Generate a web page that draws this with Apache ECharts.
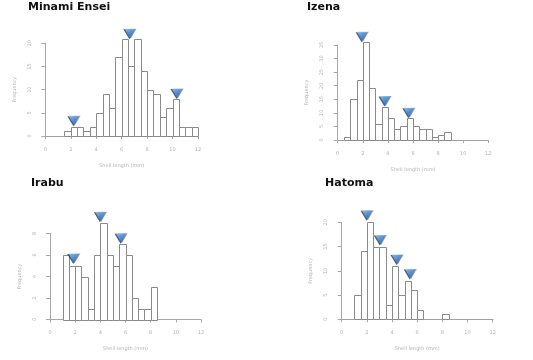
<!DOCTYPE html>
<html>
<head>
<meta charset="utf-8">
<script src="https://cdn.jsdelivr.net/npm/echarts@6/dist/echarts.min.js"></script>
<style>
html,body{margin:0;padding:0;background:#fff;}
#c{width:533px;height:360px;}
</style>
</head>
<body>
<div id="c"></div>
<script>
// ---- data ----
var panelTitles = ['Minami Ensei', 'Izena', 'Irabu', 'Hatoma'];
var binWidth = 0.5;
var binStarts = [0, 0, 1, 0];
var minamiCounts = [0,0,0,1,2,2,1,2,5,9,6,17,21,15,21,14,10,9,4,6,8,2,2,2];
var izenaCounts  = [0,1,15,22,36,19,6,12,8,4,5,8,5,4,4,1,2,3,0,0,0,0,0,0];
var irabuCounts  = [6,5,5,4,1,6,9,6,5,7,6,2,1,1,3];
var hatomaCounts = [0,0,5,14,20,15,15,3,11,5,8,6,2,0,0,0,1,0,0,0,0,0,0,0];
var minamiPeaks = [[2.3,2.2],[6.7,21],[10.4,8.1]];
var izenaPeaks  = [[2.0,36.2],[3.82,12.5],[5.72,8.2]];
var irabuPeaks  = [[1.94,5.2],[4.06,9.1],[5.7,7.1]];
var hatomaPeaks = [[2.07,20.4],[3.12,15.3],[4.45,11.3],[5.5,8.3]];
var yMax = [20, 35, 8, 20];
var yInterval = [5, 5, 2, 5];
var xTicks = [0, 12, 2];
var xName = 'Shell length (mm)';
var yName = 'Frequency';

var allCounts = [minamiCounts, izenaCounts, irabuCounts, hatomaCounts];
var allPeaks = [minamiPeaks, izenaPeaks, irabuPeaks, hatomaPeaks];

// ---- layout ----
var grids = [
  {left:45.3, top:43.3, width:152.7, height:92.7},
  {left:337.7, top:45, width:150.6, height:95},
  {left:50, top:233.5, width:151, height:86},
  {left:341.7, top:222.3, width:151, height:97}
];
var titlePos = [
  {left:28, top:2}, {left:307, top:2}, {left:31, top:178}, {left:325, top:178}
];

var labelColor = '#b4b4b4';
var axisColor = '#a8a8a8';

var option = {
  animation: false,
  backgroundColor: '#fff',
  title: panelTitles.map(function(t, i){
    return {text: t, left: titlePos[i].left, top: titlePos[i].top, padding: 0,
      textStyle: {fontFamily: 'DejaVu Sans', fontSize: 11, fontWeight: 'bold', color: '#111'}};
  }),
  grid: grids,
  xAxis: grids.map(function(g, i){
    return {type:'value', gridIndex:i, min:xTicks[0], max:xTicks[1], interval:xTicks[2],
      offset: 4,
      name: xName, nameLocation:'middle', nameGap: 23,
      nameTextStyle: {fontFamily:'DejaVu Sans', fontSize:5, color:labelColor},
      axisLine: {lineStyle:{color:axisColor, width:1}},
      axisTick: {length:3, lineStyle:{color:axisColor}},
      axisLabel: {fontFamily:'DejaVu Sans', fontSize:5, color:labelColor, margin:7},
      splitLine: {show:false}};
  }),
  yAxis: grids.map(function(g, i){
    return {type:'value', gridIndex:i, min:0, max:yMax[i], interval:yInterval[i],
      offset: 6,
      name: yName, nameLocation:'middle', nameGap: 22, nameRotate: 90,
      nameTextStyle: {fontFamily:'DejaVu Sans', fontSize:5, color:labelColor},
      axisLine: {show:true, lineStyle:{color:axisColor, width:1}},
      axisTick: {show:true, length:4, lineStyle:{color:axisColor}},
      axisLabel: {fontFamily:'DejaVu Sans', fontSize:5, color:labelColor, rotate:90, margin:7},
      splitLine: {show:false}};
  }),
  series: []
};

allCounts.forEach(function(counts, i){
  var data = counts.map(function(c, k){
    var x0 = binStarts[i] + k * binWidth;
    return [x0, x0 + binWidth, c];
  });
  option.series.push({
    type:'custom', xAxisIndex:i, yAxisIndex:i, clip:false,
    encode:{x:[0,1], y:2},
    data: data,
    renderItem: function(params, api){
      var v2 = api.value(2);
      var p0 = api.coord([api.value(0), v2]);
      var p1 = api.coord([api.value(1), 0]);
      var xa = Math.round(p0[0]) + 0.5, xb = Math.round(p1[0]) + 0.5;
      var ya = Math.round(p0[1]) + 0.5, yb = Math.round(p1[1]) + 0.5;
      if (!(v2 > 0)) {
        return {type:'rect', shape:{x:xa, y:yb - 0.5, width:xb - xa, height:1},
          style:{fill:'#a0a0a0', stroke:null}};
      }
      return {type:'polygon',
        shape:{points:[[xa,yb],[xa,ya],[xb,ya],[xb,yb]]},
        style:{fill:'#fff', stroke:'#8a8a8a', lineWidth:1}};
    }
  });
});

allPeaks.forEach(function(pk, i){
  option.series.push({
    type:'scatter', xAxisIndex:i, yAxisIndex:i, clip:false, z:5,
    symbol:'path://M0,0L12,0L6,10Z', symbolSize:[12,10], symbolOffset:[0,-5],
    data: pk,
    itemStyle:{
      color:{type:'linear', x:0, y:0, x2:0.6, y2:1, colorStops:[
        {offset:0, color:'#a6d0f6'}, {offset:0.5, color:'#5c9ae0'}, {offset:1, color:'#2f6cc0'}]},
      shadowColor:'rgba(20,30,50,0.9)', shadowOffsetX:-1.2, shadowOffsetY:0.5, shadowBlur:0
    }
  });
});

var chart = echarts.init(document.getElementById('c'), null, {renderer:'canvas'});
chart.setOption(option);
</script>
</body>
</html>
